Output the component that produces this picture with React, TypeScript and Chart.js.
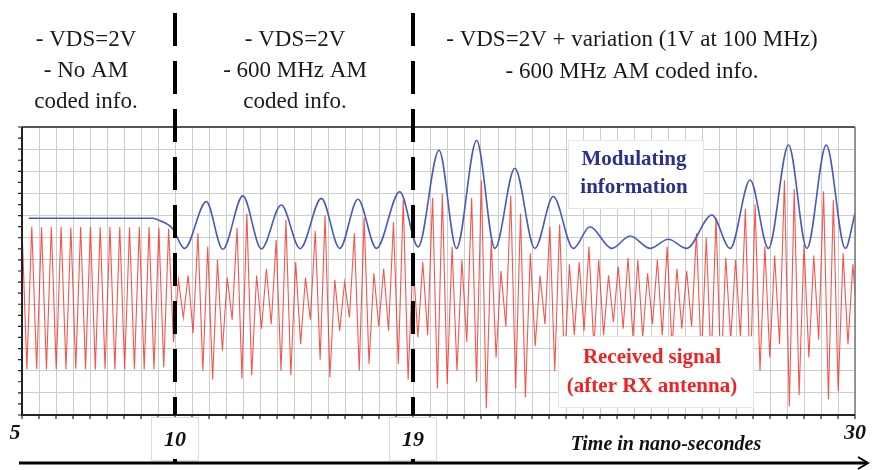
import { useEffect, useRef } from "react";
import { Chart, registerables } from "chart.js";

Chart.register(...registerables);

// x unit = one grid division of the original figure (49 across the plot)
const timeTickDivs = [0, 9, 23, 49];
const timeTickLabels = ["5", "10", "19", "30"];
const phaseBoundaryDivs = [9, 23]; // 10 ns and 19 ns

// Modulating information (blue), extrema
const modulationX = [
  0.39, 7.67, 8.09, 8.85, 9.56, 10.84, 11.81, 12.99, 14.08, 15.25, 16.36, 17.61, 18.69, 19.76,
  20.85, 22.22, 23.3, 24.53, 25.56, 26.74, 27.82, 28.99, 30.17, 31.25, 32.43, 33.41, 34.69,
  35.77, 36.94, 38.02, 39.1, 40.58, 41.66, 42.83, 43.91, 45.09, 46.17, 47.31, 48.43, 49.0,
];
const modulationY = [
  8.88, 8.88, 8.78, 8.42, 7.52, 9.63, 7.48, 9.89, 7.5, 9.48, 7.51, 9.78, 7.52, 9.74,
  7.52, 10.08, 7.59, 11.95, 7.52, 12.39, 7.52, 11.14, 7.52, 9.86, 7.52, 8.5, 7.52,
  8.08, 7.52, 7.93, 7.52, 9.03, 7.52, 10.61, 7.52, 12.19, 7.52, 12.19, 7.52, 9.1,
];

// Received signal (red): per carrier cycle, upper and lower swing
const carrierPeriod = 0.575;
const receivedHigh = [
  8.48, 8.5, 8.47, 8.49, 8.48, 8.46, 8.49, 8.48, 8.47, 8.49, 8.48, 8.47, 8.49, 8.48,
  8.45, 8.4, 6.1, 6.3, 8.2, 7.6, 7.0, 6.2, 8.45, 9.1, 6.3, 6.6, 7.9, 8.8, 6.9, 6.2,
  8.3, 9.0, 6.1, 6.0, 8.2, 8.9, 6.4, 6.6, 8.7, 9.7, 7.0, 6.9, 9.8, 10.0, 7.6, 7.0,
  9.8, 10.6, 7.9, 6.5, 9.9, 9.1, 7.3, 6.3, 8.5, 8.6, 6.8, 6.9, 7.6, 7.0, 6.3, 6.7,
  7.1, 7.0, 6.4, 7.0, 7.6, 6.6, 6.5, 8.2, 8.0, 8.9, 7.1, 7.0, 9.3, 9.5, 7.6, 7.2,
  10.6, 10.2, 7.7, 7.2, 10.1, 9.7, 7.3, 6.8,
];
const receivedLow = [
  2.07, 2.08, 2.06, 2.08, 2.07, 2.09, 2.07, 2.06, 2.08, 2.05, 2.07, 2.08, 2.06, 2.07,
  2.15, 3.3, 4.4, 3.7, 2.0, 1.6, 2.9, 4.3, 1.65, 1.8, 3.9, 4.1, 2.0, 1.8, 3.2, 4.3,
  2.5, 1.7, 3.8, 4.4, 2.0, 2.3, 4.0, 3.8, 2.3, 1.6, 3.5, 3.6, 1.2, 1.4, 2.0, 3.3,
  1.5, 0.3, 2.6, 4.0, 1.2, 0.8, 3.1, 4.1, 2.0, 2.2, 3.6, 3.8, 3.0, 3.6, 4.2, 3.9,
  3.5, 3.5, 4.1, 3.6, 3.0, 3.9, 4.0, 2.4, 2.3, 1.8, 3.4, 3.5, 1.5, 2.0, 2.6, 3.2,
  0.4, 0.9, 2.6, 3.4, 0.7, 1.1, 3.2, 3.9,
];

const SERIF = '"Liberation Serif", "Times New Roman", serif';

const overlayPlugin = {
  id: "overlay",
  afterDatasetsDraw(chart: any) {
    const { ctx, chartArea: a, scales } = chart;
    const xs = scales.x;
    const ys = scales.y;
    ctx.save();

    // frame
    ctx.strokeStyle = "#555";
    ctx.lineWidth = 2;
    ctx.beginPath();
    ctx.moveTo(a.left, a.top);
    ctx.lineTo(a.right, a.top);
    ctx.stroke();
    ctx.strokeStyle = "#777";
    ctx.lineWidth = 1.5;
    ctx.beginPath();
    ctx.moveTo(a.right, a.top);
    ctx.lineTo(a.right, a.bottom);
    ctx.stroke();
    ctx.strokeStyle = "#222";
    ctx.lineWidth = 2;
    ctx.beginPath();
    ctx.moveTo(a.left, a.top);
    ctx.lineTo(a.left, a.bottom);
    ctx.lineTo(a.right, a.bottom);
    ctx.stroke();

    // minor ticks
    ctx.lineWidth = 1.2;
    ctx.beginPath();
    for (let v = 0; v <= 13; v += 0.5) {
      const py = ys.getPixelForValue(v);
      ctx.moveTo(a.left - 4, py);
      ctx.lineTo(a.left, py);
    }
    for (let v = 0; v <= 49; v += 1) {
      const px = xs.getPixelForValue(v);
      ctx.moveTo(px, a.bottom);
      ctx.lineTo(px, a.bottom + 4);
    }
    ctx.stroke();

    // legend boxes
    const box = (x: number, y: number, w: number, h: number) => {
      ctx.fillStyle = "#fff";
      ctx.fillRect(x, y, w, h);
      ctx.strokeStyle = "#e6e6e6";
      ctx.lineWidth = 1;
      ctx.strokeRect(x + 0.5, y + 0.5, w, h);
    };
    box(568, 140, 135, 68);
    box(558, 336, 195, 71);

    ctx.textAlign = "center";
    ctx.textBaseline = "middle";
    ctx.font = `bold 21px ${SERIF}`;
    ctx.fillStyle = "#2c2f8c";
    ctx.fillText("Modulating", 634, 160);
    ctx.fillText("information", 634, 188);
    ctx.fillStyle = "#ee2424";
    ctx.fillText("Received signal", 652, 358);
    ctx.fillText("(after RX antenna)", 652, 387);

    // phase boundaries
    ctx.strokeStyle = "#000";
    ctx.lineWidth = 4;
    ctx.setLineDash([33, 15]);
    phaseBoundaryDivs.forEach((d) => {
      const px = xs.getPixelForValue(d);
      ctx.beginPath();
      ctx.moveTo(px, 13);
      ctx.lineTo(px, a.bottom);
      ctx.stroke();
    });
    ctx.setLineDash([]);

    // tick labels
    ctx.font = `bold italic 22px ${SERIF}`;
    ctx.fillStyle = "#111";
    timeTickDivs.forEach((d, i) => {
      const px = xs.getPixelForValue(d);
      const inner = i > 0 && i < timeTickDivs.length - 1;
      if (inner) {
        ctx.fillStyle = "#fff";
        ctx.fillRect(px - 24, 417, 47, 43);
        ctx.strokeStyle = "#dcdcdc";
        ctx.lineWidth = 1;
        ctx.strokeRect(px - 23.5, 417.5, 47, 43);
        ctx.fillStyle = "#111";
        ctx.fillText(timeTickLabels[i], px, 440);
      } else {
        const ox = i === 0 ? -7 : 0;
        ctx.fillText(timeTickLabels[i], px + ox, 433);
      }
    });

    ctx.font = `bold italic 20px ${SERIF}`;
    ctx.fillText("Time in nano-secondes", 666, 445);

    // arrow
    ctx.strokeStyle = "#000";
    ctx.lineWidth = 3;
    ctx.beginPath();
    ctx.moveTo(19, 463);
    ctx.lineTo(867, 463);
    ctx.stroke();
    ctx.lineWidth = 2;
    ctx.beginPath();
    ctx.moveTo(858, 457);
    ctx.lineTo(868, 463);
    ctx.lineTo(858, 469);
    ctx.stroke();
    ctx.fillStyle = "#000";
    phaseBoundaryDivs.forEach((d) => {
      const px = xs.getPixelForValue(d);
      ctx.fillRect(px - 2, 459, 4, 4);
    });

    // phase descriptions
    ctx.font = `23px ${SERIF}`;
    ctx.fillStyle = "#1a1a1a";
    const col1 = ["- VDS=2V", "- No AM", "coded info."];
    const col2 = ["- VDS=2V", "- 600 MHz AM", "coded info."];
    const col3 = ["- VDS=2V + variation (1V at 100 MHz)", "- 600 MHz AM coded info."];
    col1.forEach((t, i) => ctx.fillText(t, 86, 40 + i * 31));
    col2.forEach((t, i) => ctx.fillText(t, 295, 40 + i * 31));
    col3.forEach((t, i) => ctx.fillText(t, 632, 40 + i * 32));

    ctx.restore();
  },
};

export default function App() {
  const ref = useRef<HTMLCanvasElement | null>(null);
  useEffect(() => {
    if (!ref.current) return;
    const modulation = modulationX.map((x, i) => ({ x, y: modulationY[i] }));
    const received: { x: number; y: number }[] = [];
    receivedHigh.forEach((h, i) => {
      received.push({ x: i * carrierPeriod, y: h });
      received.push({ x: (i + 0.5) * carrierPeriod, y: receivedLow[i] });
    });
    const chart = new Chart(ref.current, {
      type: "line",
      data: {
        datasets: [
          {
            label: "Modulating information",
            data: modulation,
            borderColor: "#4a5ab8",
            borderWidth: 1.6,
            pointRadius: 0,
            cubicInterpolationMode: "monotone",
            fill: false,
          },
          {
            label: "Received signal",
            data: received,
            borderColor: "rgba(242,45,35,0.8)",
            borderWidth: 1.1,
            pointRadius: 0,
            tension: 0,
            fill: false,
          },
        ],
      },
      options: {
        responsive: false,
        animation: false,
        layout: { padding: { left: 22, top: 127, right: 17, bottom: 55 } },
        plugins: { legend: { display: false }, tooltip: { enabled: false } },
        scales: {
          x: {
            type: "linear",
            min: 0,
            max: 49,
            ticks: { display: false, stepSize: 1, maxTicksLimit: 100 },
            grid: { color: "#cdcdcd", lineWidth: 1, drawTicks: false },
            border: { display: false },
          },
          y: {
            type: "linear",
            min: 0,
            max: 13,
            ticks: { display: false, stepSize: 1, maxTicksLimit: 100 },
            grid: { color: "#cdcdcd", lineWidth: 1, drawTicks: false },
            border: { display: false },
          },
        },
      },
      plugins: [overlayPlugin],
    });
    return () => chart.destroy();
  }, []);
  return (
    <div style={{ position: "fixed", left: 0, top: 0, width: 872, height: 470, background: "#fff" }}>
      <canvas ref={ref} width={872} height={470} />
    </div>
  );
}
